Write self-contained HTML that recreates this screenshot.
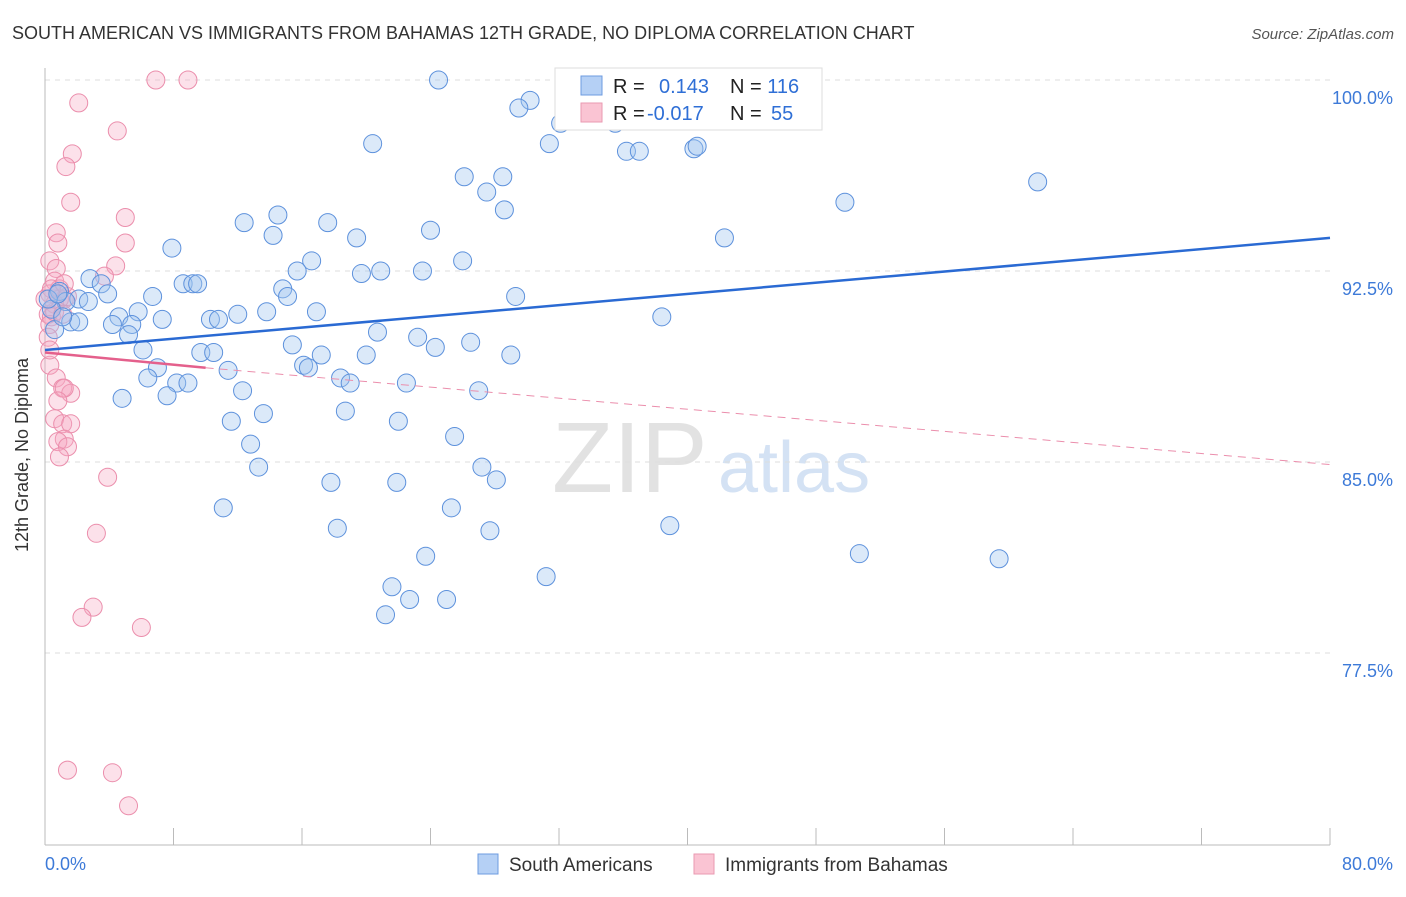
<!DOCTYPE html>
<html><head><meta charset="utf-8"><style>
body{margin:0;background:#fff;font-family:"Liberation Sans",sans-serif}
svg text{font-family:"Liberation Sans",sans-serif}
</style></head><body>
<svg width="1406" height="892" xmlns="http://www.w3.org/2000/svg">
<text x="12" y="39" font-size="18" fill="#333">SOUTH AMERICAN VS IMMIGRANTS FROM BAHAMAS 12TH GRADE, NO DIPLOMA CORRELATION CHART</text>
<text x="1394" y="39" font-size="15" fill="#555" text-anchor="end" font-style="italic">Source: ZipAtlas.com</text>
<g>
<text x="552" y="492" font-size="100" fill="#e2e2e2" font-family="Liberation Serif">ZIP</text>
<text x="718" y="492" font-size="72" fill="#d4e2f4">atlas</text>
</g>
<g id="grid"></g>
<g id="axes"></g>
<g id="pts"></g>
<g id="lines"></g>
<text x="28" y="455" font-size="18" fill="#333" transform="rotate(-90 28 455)" text-anchor="middle">12th Grade, No Diploma</text>
<g>
<rect x="555" y="68" width="267" height="62" fill="#fff" stroke="#ddd"/>
<rect x="581" y="76" width="21" height="19" fill="#b5d0f5" stroke="#6d9be0"/>
<rect x="581" y="103" width="21" height="19" fill="#fac4d3" stroke="#ea9ab2"/>
<text x="613" y="93" font-size="20" fill="#222">R = <tspan x="659" fill="#2f6fd6">0.143</tspan></text>
<text x="730" y="93" font-size="20" fill="#222">N = <tspan fill="#2f6fd6">116</tspan></text>
<text x="613" y="120" font-size="20" fill="#222">R = <tspan x="647" fill="#2f6fd6">-0.017</tspan></text>
<text x="730" y="120" font-size="20" fill="#222">N = <tspan x="771" fill="#2f6fd6">55</tspan></text>
</g>
<g>
<rect x="478" y="854" width="20" height="20" fill="#b5d0f5" stroke="#6d9be0"/>
<text x="509" y="871" font-size="19" fill="#333">South Americans</text>
<rect x="694" y="854" width="20" height="20" fill="#fac4d3" stroke="#ea9ab2"/>
<text x="725" y="871" font-size="19" fill="#333">Immigrants from Bahamas</text>
</g>
</svg>
<script>
const yTicks=[100,92.5,85,77.5];
const yTickLabels=["100.0%","92.5%","85.0%","77.5%"];
const xTicks=[0,8,16,24,32,40,48,56,64,72,80];
const blueX=[24.5,32.6,35.4,39.3,41.2,32.1,35.5,30.2,29.5,31.4,36.2,37.0,40.4,40.6,20.4,26.1,28.5,27.5,28.6,61.8,49.8,42.3,12.4,14.5,14.2,17.6,19.4,24.0,7.9,16.6,26.0,15.7,20.9,23.5,19.7,29.3,8.6,9.2,9.5,2.8,3.5,3.9,0.9,2.1,6.7,2.7,14.8,15.1,1.3,5.8,4.6,13.8,12.0,16.9,10.3,10.8,7.3,4.2,5.4,1.6,2.1,5.2,20.7,23.2,38.4,15.4,26.5,24.3,6.1,17.2,20.0,29.0,9.7,10.5,16.1,16.4,11.4,7.0,6.4,8.2,8.9,18.4,19.0,22.5,12.3,27.0,7.6,4.8,18.7,13.6,11.6,22.0,25.5,12.8,13.3,27.2,28.1,17.8,21.9,11.1,25.3,18.2,27.7,38.9,23.7,50.7,59.4,31.2,21.6,22.7,25.0,21.2,0.4,0.6,0.2,0.8,1.1];
const blueY=[100,100,100,100,98.6,98.3,98.3,99.2,98.9,97.5,97.2,97.2,97.3,97.4,97.5,96.2,96.2,95.6,94.9,96.0,95.2,93.8,94.4,94.7,93.9,94.4,93.8,94.1,93.4,92.9,92.9,92.5,92.5,92.5,92.4,91.5,92.0,92.0,92.0,92.2,92.0,91.6,91.7,91.4,91.5,91.3,91.8,91.5,91.3,90.9,90.7,90.9,90.8,90.9,90.6,90.6,90.6,90.4,90.4,90.5,90.5,90.0,90.1,89.9,90.7,89.6,89.7,89.5,89.4,89.2,89.2,89.2,89.3,89.3,88.8,88.7,88.6,88.7,88.3,88.1,88.1,88.3,88.1,88.1,87.8,87.8,87.6,87.5,87.0,86.9,86.6,86.6,86.0,85.7,84.8,84.8,84.3,84.2,84.2,83.2,83.2,82.4,82.3,82.5,81.3,81.4,81.2,80.5,80.1,79.6,79.6,79.0,91.0,90.2,91.4,91.6,90.7];
const pinkX=[6.9,8.9,2.1,4.5,1.7,1.3,1.6,5.0,0.7,0.8,5.0,4.4,0.3,0.7,3.7,0.6,0.9,0.3,1.2,0.6,0.2,0.4,0.3,0.3,0.7,1.1,1.6,1.2,0.6,1.1,1.6,1.2,0.8,1.4,0.9,3.9,3.2,3.0,2.3,6.0,1.4,4.2,5.2,0.9,1.4,0.4,0.6,1.1,0.2,0.3,0.8,0,1.2];
const pinkY=[100,100,99.1,98.0,97.1,96.6,95.2,94.6,94.0,93.6,93.6,92.7,92.9,92.6,92.3,92.1,91.8,91.6,91.4,91.2,90.8,90.7,90.4,88.8,88.3,87.9,87.7,87.9,86.7,86.5,86.5,85.9,85.8,85.6,85.2,84.4,82.2,79.3,78.9,78.5,72.9,72.8,71.5,91.4,91.5,91.8,90.9,90.8,89.9,89.4,87.4,91.4,92.0];
const blueTrend=[[0,89.4],[80,93.8]];
const pinkTrendSolid=[[0,89.3],[10,88.7]];
const pinkTrendDash=[[10,88.7],[80,84.9]];
const NS="http://www.w3.org/2000/svg";
const X=v=>45+v*(1285/80);
const Y=v=>80+(100-v)*(191/7.5);
function mk(tag,attrs,parent){const e=document.createElementNS(NS,tag);for(const k in attrs)e.setAttribute(k,attrs[k]);document.getElementById(parent).appendChild(e);return e;}
yTicks.forEach((t,i)=>{
  const l=mk('line',{x1:45,x2:1330,y1:Y(t),y2:Y(t),stroke:'#ddd','stroke-dasharray':'5,5'},'grid');
  
  
  const tx=mk('text',{x:1393,y:Y(t)+24,'font-size':18,fill:'#3d7ad8','text-anchor':'end'},'grid');
  tx.textContent=yTickLabels[i];
  
  
});
const ax=mk('line',{x1:45,x2:45,y1:68,y2:845,stroke:'#bbb'},'axes');


const bx=mk('line',{x1:45,x2:1330,y1:845,y2:845,stroke:'#bbb'},'axes');


xTicks.forEach(t=>{
  const l=mk('line',{x1:X(t),x2:X(t),y1:828,y2:845,stroke:'#bbb'},'axes');
  
  
});
const xl0=mk('text',{x:45,y:870,'font-size':18,fill:'#3d7ad8'},'axes');xl0.textContent='0.0%';


const xl1=mk('text',{x:1393,y:870,'font-size':18,fill:'#3d7ad8','text-anchor':'end'},'axes');xl1.textContent='80.0%';


pinkX.forEach((v,i)=>{
  const c=mk('circle',{cx:X(v),cy:Y(pinkY[i]),r:9,fill:'rgba(246,170,196,0.35)',stroke:'#eb8eac','stroke-width':1},'pts');
  
  
});
blueX.forEach((v,i)=>{
  const c=mk('circle',{cx:X(v),cy:Y(blueY[i]),r:9,fill:'rgba(160,196,240,0.38)',stroke:'#5d91dc','stroke-width':1},'pts');
  
  
});
function ln(p,st,name){const l=mk('line',Object.assign({x1:X(p[0][0]),y1:Y(p[0][1]),x2:X(p[1][0]),y2:Y(p[1][1])},st),'lines');
  
  }
ln(pinkTrendDash,{stroke:'#eb8eac','stroke-width':1,'stroke-dasharray':'8,6'},'bahamas-trend-dashed');
ln(pinkTrendSolid,{stroke:'#e4608c','stroke-width':2.5},'bahamas-trend');
ln(blueTrend,{stroke:'#2a6ad3','stroke-width':2.5},'south-american-trend');
</script>
</body></html>
